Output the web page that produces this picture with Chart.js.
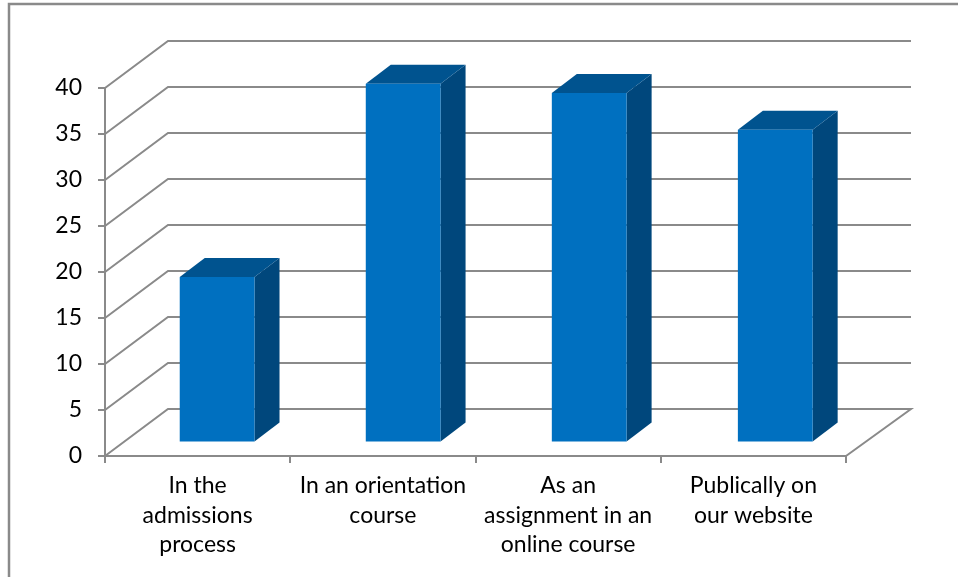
<!DOCTYPE html>
<html>
<head>
<meta charset="utf-8">
<title>Chart</title>
<script src="https://cdn.jsdelivr.net/npm/chart.js@4"></script>
<style>
    html, body { margin: 0; padding: 0; background: #fff; overflow: hidden; }
    canvas { display: block; }
</style>
</head>
<body>
<canvas id="myChart" width="958" height="577"></canvas>
<script>
const categories = [
    ["In the", "admissions", "process"],
    ["In an orientation", "course"],
    ["As an", "assignment in an", "online course"],
    ["Publically on", "our website"]
];
const values = [18, 39, 38, 34];
const yTicks = [0, 5, 10, 15, 20, 25, 30, 35, 40];

const GREY = '#8a8a8a';
const FONT = 'Lato, sans-serif';

// 3D look: back wall offset from the front plane, and where the bars stand in between
const WALL_DX = 63, WALL_DY = 47, WALL_RIGHT_DX = 65;
const BAR_DX = 19.5, BAR_DY = 13.5, BAR_SCALE = 1.0043;
const DEPTH_DX = 25, DEPTH_DY = 19;

// first category centre, bars are shifted around it
function barShift(chart) {
    return chart.scales.x.getPixelForValue(0);
}

const frame = {
    id: 'frame',
    beforeDraw(chart) {
        const ctx = chart.ctx;
        ctx.save();
        ctx.strokeStyle = GREY;
        ctx.lineWidth = 2.5;
        ctx.strokeRect(9, 4, 1000, 1000);
        ctx.restore();
    }
};

const walls = {
    id: 'walls',
    beforeDatasetsDraw(chart) {
        const ctx = chart.ctx, y = chart.scales.y, x = chart.scales.x;
        const left = x.left, right = x.right;
        ctx.save();
        ctx.strokeStyle = GREY;
        ctx.lineWidth = 2;
        yTicks.forEach((t) => {
            const py = y.getPixelForValue(t);
            ctx.beginPath();
            ctx.moveTo(left, py);
            ctx.lineTo(left + WALL_DX, py - WALL_DY);
            ctx.lineTo(right + WALL_RIGHT_DX, py - WALL_DY);
            if (t === 0) ctx.lineTo(right, py);
            ctx.stroke();
        });
        ctx.restore();

        // side and top faces of the bars, behind the front faces
        const c0 = barShift(chart);
        const meta = chart.getDatasetMeta(0);
        const px = (v) => c0 + BAR_DX + (v - c0) * BAR_SCALE;
        ctx.save();
        meta.data.forEach((bar) => {
            const l = px(bar.x - bar.width / 2), r = px(bar.x + bar.width / 2);
            const top = bar.y - BAR_DY, bottom = bar.base - BAR_DY;
            ctx.fillStyle = '#00477c';
            ctx.beginPath();
            ctx.moveTo(r, top);
            ctx.lineTo(r + DEPTH_DX, top - DEPTH_DY);
            ctx.lineTo(r + DEPTH_DX, bottom - DEPTH_DY);
            ctx.lineTo(r, bottom);
            ctx.closePath();
            ctx.fill();
            ctx.fillStyle = '#00538f';
            ctx.beginPath();
            ctx.moveTo(l, top);
            ctx.lineTo(l + DEPTH_DX, top - DEPTH_DY);
            ctx.lineTo(r + DEPTH_DX, top - DEPTH_DY);
            ctx.lineTo(r, top);
            ctx.closePath();
            ctx.fill();
        });
        ctx.restore();

        // front faces are drawn by the library in the shifted plane
        ctx.save();
        ctx.translate(c0 + BAR_DX, -BAR_DY);
        ctx.scale(BAR_SCALE, 1);
        ctx.translate(-c0, 0);
    },
    afterDatasetsDraw(chart) {
        chart.ctx.restore();
    }
};

var ctx = document.getElementById('myChart').getContext('2d');
var chart = new Chart(ctx, {
    type: 'bar',
    data: {
        labels: categories,
        datasets: [{
            data: values,
            backgroundColor: '#0070c0',
            barPercentage: 0.402,
            categoryPercentage: 1
        }]
    },
    plugins: [frame, walls],
    options: {
        responsive: false,
        animation: false,
        layout: { padding: { left: 0, top: 88, right: 112, bottom: 0 } },
        plugins: { legend: { display: false }, tooltip: { enabled: false } },
        scales: {
            x: {
                afterFit(scale) { scale.height = 121; },
                grid: { drawOnChartArea: false, color: GREY, lineWidth: 2, tickLength: 7 },
                border: { color: GREY, width: 2 },
                ticks: {
                    color: '#000',
                    padding: 8,
                    maxRotation: 0,
                    autoSkip: false,
                    font: { family: FONT, size: 23, lineHeight: '29.5px' }
                }
            },
            y: {
                min: 0,
                max: 40,
                afterFit(scale) { scale.width = 105; },
                afterBuildTicks(scale) { scale.ticks = yTicks.map((v) => ({ value: v })); },
                grid: { drawOnChartArea: false, color: GREY, lineWidth: 2, tickLength: 7 },
                border: { color: GREY, width: 2 },
                ticks: {
                    color: '#000',
                    padding: 16,
                    font: { family: FONT, size: 23 }
                }
            }
        }
    }
});
</script>
</body>
</html>
